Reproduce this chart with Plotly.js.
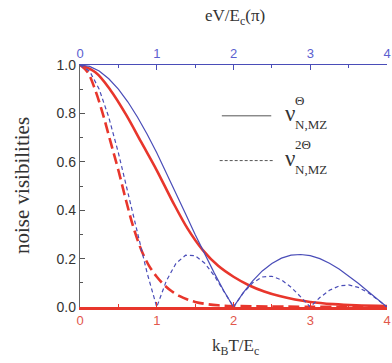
<!DOCTYPE html>
<html>
<head>
<meta charset="utf-8">
<script src="https://cdn.plot.ly/plotly-3.0.1.min.js"></script>
<style>html,body{margin:0;padding:0;background:#fff;}#chart{width:392px;height:363px;}</style>
</head>
<body>
<div id="chart"></div>
<script>
// Blue curves: versus eV/Ec (in units of pi), top axis
const eV = [0,0.125,0.25,0.375,0.5,0.625,0.75,0.875,1,1.125,1.25,1.375,1.5,1.625,1.75,1.875,2,
  2.125,2.25,2.375,2.5,2.625,2.75,2.875,3,3.125,3.25,3.375,3.5,3.625,3.75,3.875,4];
const blueSolid = [1,0.994,0.975,0.943,0.900,0.847,0.784,0.714,0.637,0.555,0.471,0.385,0.300,0.218,0.140,0.066,0,
  0.058,0.108,0.149,0.180,0.202,0.214,0.217,0.212,0.200,0.181,0.157,0.129,0.098,0.065,0.032,0];
const blueDashed = [1,0.975,0.900,0.784,0.637,0.471,0.300,0.140,0,0.108,0.180,0.214,0.212,0.181,0.129,0.065,0,
  0.057,0.100,0.124,0.127,0.112,0.082,0.042,0,0.039,0.069,0.087,0.091,0.081,0.060,0.031,0];
// Red curves: versus kBT/Ec, bottom axis
const kT1 = [0,0.2,0.4,0.6,0.8,1.0,1.2,1.4,1.6,1.8,2.0,2.2,2.4,2.6,2.8,3.0,3.3,3.6,4.0];
const redSolid = [1.0,0.97,0.895,0.795,0.68,0.565,0.44,0.325,0.235,0.17,0.125,0.09,0.064,0.045,0.031,0.021,0.012,0.007,0.004];
const kT2 = [0,0.1,0.2,0.3,0.4,0.5,0.6,0.7,0.8,0.9,1.0,1.1,1.2,1.3,1.4,1.5,1.65,1.8,2.0,4.0];
const redDashed = [1.0,0.97,0.895,0.795,0.68,0.565,0.44,0.325,0.235,0.17,0.125,0.09,0.064,0.045,0.031,0.021,0.012,0.007,0.004,0.0];
const xTicks = [0,1,2,3,4];
const yTicks = [0,0.2,0.4,0.6,0.8,1.0];
const yTickText = ['0.0','0.2','0.4','0.6','0.8','1.0'];

const RED = '#e8362c', BLUE = '#4a4db8', RED_T = '#e2574c', BLUE_T = '#5b60cf';
const SERIF = 'Liberation Serif', SANS = 'Liberation Sans';

const traces = [
  {x: eV, y: blueSolid, xaxis:'x2', yaxis:'y', mode:'lines', line:{color:BLUE, width:1.2}},
  {x: eV, y: blueDashed, xaxis:'x2', yaxis:'y', mode:'lines', line:{color:BLUE, width:1.2, dash:'4px,3px'}},
  {x: kT1, y: redSolid, xaxis:'x', yaxis:'y', mode:'lines', line:{color:RED, width:2.6, shape:'spline'}},
  {x: kT2, y: redDashed, xaxis:'x', yaxis:'y', mode:'lines', line:{color:RED, width:2.6, dash:'11px,5px', shape:'spline'}}
];

const layout = {
  width:392, height:363,
  margin:{l:80, r:5, t:65, b:56},
  paper_bgcolor:'#fff', plot_bgcolor:'#fff',
  showlegend:false,
  xaxis:{range:[0,4], tickvals:xTicks, ticks:'inside', ticklen:5, tickcolor:RED,
    showline:true, linecolor:RED, linewidth:2.5, showgrid:false, zeroline:false,
    minor:{dtick:0.5, ticks:'inside', ticklen:3, tickcolor:RED},
    tickfont:{family:SANS, size:13, color:RED_T}},
  xaxis2:{range:[0,4], overlaying:'x', side:'top', tickvals:xTicks, ticks:'inside', ticklen:5, tickcolor:BLUE,
    showline:true, linecolor:BLUE, linewidth:1.5, showgrid:false, zeroline:false,
    minor:{dtick:0.5, ticks:'inside', ticklen:3, tickcolor:BLUE},
    tickfont:{family:SANS, size:13, color:BLUE_T}},
  yaxis:{range:[0,1], tickvals:yTicks, ticktext:yTickText, ticks:'inside', ticklen:5, tickcolor:'#555',
    showline:true, linecolor:'#666', linewidth:1.2, showgrid:false, zeroline:false,
    minor:{dtick:0.1, ticks:'inside', ticklen:3, tickcolor:'#555'},
    tickfont:{family:SANS, size:14, color:'#333'}},
  yaxis2:{range:[0,1], overlaying:'y', side:'right', tickvals:yTicks, showticklabels:false, ticks:'inside', ticklen:5, tickcolor:'#555',
    showline:true, linecolor:'#666', linewidth:1.2, showgrid:false, zeroline:false,
    minor:{dtick:0.1, ticks:'inside', ticklen:3, tickcolor:'#555'}},
  shapes:[
    {type:'line', xref:'paper', yref:'paper', x0:0.462, x1:0.623, y0:0.79, y1:0.79, line:{color:'#555', width:1}},
    {type:'line', xref:'paper', yref:'paper', x0:0.455, x1:0.633, y0:0.605, y1:0.605, line:{color:'#555', width:1, dash:'3px,2px'}}
  ],
  annotations:[
    {xref:'paper', yref:'paper', x:0.505, y:1.0, yshift:48, text:'eV/E<sub>c</sub>(π)', showarrow:false, xanchor:'center', yanchor:'middle', font:{family:SERIF, size:17, color:'#333'}},
    {xref:'paper', yref:'paper', x:0.505, y:0, yshift:-40, text:'k<sub>B</sub>T/E<sub>c</sub>', showarrow:false, xanchor:'center', yanchor:'middle', font:{family:SERIF, size:17, color:'#333'}},
    {xref:'paper', yref:'paper', x:0, xshift:-58, y:0.5, text:'noise visibilities', textangle:-90, showarrow:false, xanchor:'center', yanchor:'middle', font:{family:SERIF, size:21, color:'#333'}},
    {xref:'paper', yref:'paper', x:0.660, y:0.80, text:'ν', showarrow:false, xanchor:'left', yanchor:'middle', font:{family:SERIF, size:23, color:'#333'}},
    {xref:'paper', yref:'paper', x:0.693, y:0.855, text:'Θ', showarrow:false, xanchor:'left', yanchor:'middle', font:{family:SERIF, size:13, color:'#333'}},
    {xref:'paper', yref:'paper', x:0.693, y:0.755, text:'N,MZ', showarrow:false, xanchor:'left', yanchor:'middle', font:{family:SERIF, size:13, color:'#333'}},
    {xref:'paper', yref:'paper', x:0.660, y:0.615, text:'ν', showarrow:false, xanchor:'left', yanchor:'middle', font:{family:SERIF, size:23, color:'#333'}},
    {xref:'paper', yref:'paper', x:0.693, y:0.67, text:'2Θ', showarrow:false, xanchor:'left', yanchor:'middle', font:{family:SERIF, size:13, color:'#333'}},
    {xref:'paper', yref:'paper', x:0.693, y:0.57, text:'N,MZ', showarrow:false, xanchor:'left', yanchor:'middle', font:{family:SERIF, size:13, color:'#333'}}
  ]
};

Plotly.newPlot('chart', traces, layout, {staticPlot:true, displayModeBar:false});
</script>
</body>
</html>
